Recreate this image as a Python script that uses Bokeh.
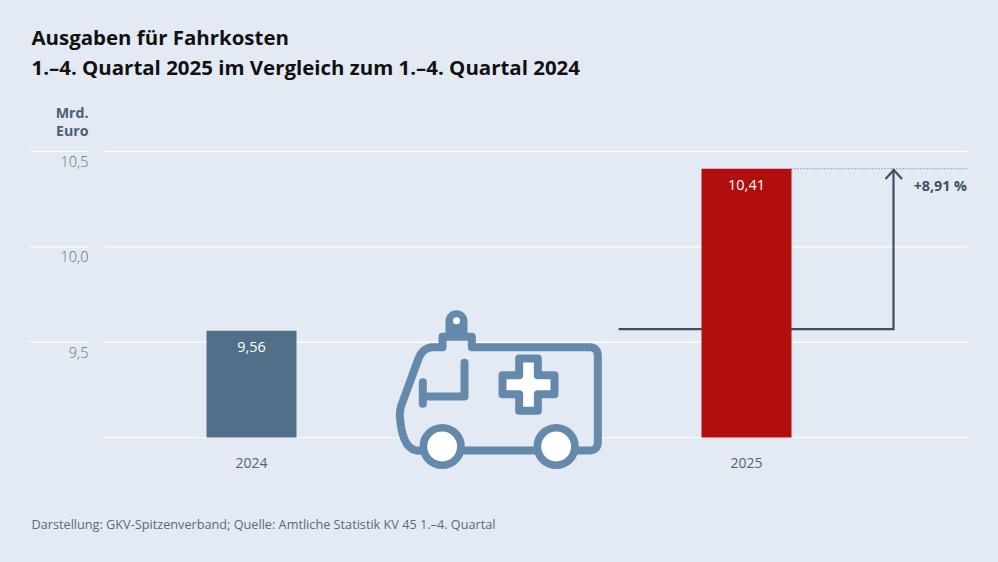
import math

from bokeh.plotting import figure
from bokeh.models import FixedTicker, Range1d
from bokeh.core.properties import value
from bokeh.embed import file_html
from bokeh.resources import INLINE

years = [2024, 2025]
values = [9.56, 10.41]
value_labels = ["9,56", "10,41"]
bar_colors = ["#516f88", "#b20e0e"]
y_ticks = [9.0, 9.5, 10.0, 10.5]
y_label_values = [9.5, 10.0, 10.5]
y_label_texts = ["9,5", "10,0", "10,5"]
change_label = "+8,91 %"
title_lines = ["Ausgaben für Fahrkosten", "1.–4. Quartal 2025 im Vergleich zum 1.–4. Quartal 2024"]
unit_lines = ["Mrd.", "Euro"]
source = "Darstellung: GKV-Spitzenverband; Quelle: Amtliche Statistik KV 45 1.–4. Quartal"

BG = "#e4eaf4"
FONT = "Open Sans"
ICON = "#6589ab"
DARK = "#3e4f5f"


def X(px):
    return 2024 + (px - 251) / 495


def Y(py):
    return 9.0 + (437 - py) / (286 / 1.5)


p = figure(width=998, height=562, output_backend="svg", toolbar_location=None,
           x_range=Range1d(X(0), X(998)), y_range=Range1d(Y(562), Y(0)),
           background_fill_color=BG, border_fill_color=BG, min_border=0)
p.outline_line_color = None
p.grid.visible = False

# axes placed inside the frame
xa = p.xaxis[0]
xa.fixed_location = 9.0
xa.ticker = FixedTicker(ticks=years)
xa.major_label_overrides = {y: str(y) for y in years}
xa.axis_line_color = None
xa.major_tick_line_color = None
xa.minor_tick_line_color = None
xa.major_label_standoff = 14
xa.major_label_text_font = FONT
xa.major_label_text_font_size = "14px"
xa.major_label_text_color = "#56636f"

p.yaxis.visible = False
p.text(x=[X(88)] * len(y_label_values), y=y_label_values, text=y_label_texts, y_offset=10,
       text_color="#66727e", text_font=value("Open Sans Light"), text_font_size="14.5px",
       text_align="right", text_baseline="middle")

# grid lines
p.segment(x0=[X(104)] * len(y_ticks), x1=[X(967)] * len(y_ticks), y0=y_ticks, y1=y_ticks,
          line_color="#ffffff", line_width=1.1)
side = [t for t in y_ticks if t > 9.0]
p.segment(x0=[X(30)] * len(side), x1=[X(88)] * len(side), y0=side, y1=side,
          line_color="#ffffff", line_width=1.1)

# change arrow, behind the bars
p.line([X(618), X(893), X(893)], [Y(328.7), Y(328.7), values[1]], line_color=DARK, line_width=2.2,
       line_join="miter")
p.line([X(885), X(893.3), X(901.5)], [Y(178.5), Y(169.5), Y(178.5)], line_color=DARK, line_width=2.2)
p.line([X(791), X(967)], [values[1], values[1]], line_color="#7d8894", line_width=1.2, line_dash="1 2")

# bars
p.vbar(x=years, top=values, bottom=9.0, width=90 / 495, fill_color=bar_colors, line_color=None)
p.text(x=years, y=[Y(346), Y(184.5)], text=value_labels, text_color="#ffffff",
       text_font=value(FONT), text_font_size="14.5px", text_align="center", text_baseline="middle")
p.text(x=[X(966.5)], y=[Y(185)], text=[change_label], text_color="#3d5063", text_font=value(FONT),
       text_font_size="14.3px", text_font_style="bold", text_align="right", text_baseline="middle")


# --- ambulance icon, traced in zoom coordinates (crop origin 380,290, factor 3)
def ix(v):
    return X(380 + v / 3)


def iy(v):
    return Y(290 + v / 3)


def curve(a, c, b, n=10):
    return [((1 - t) ** 2 * a[0] + 2 * t * (1 - t) * c[0] + t ** 2 * b[0],
             (1 - t) ** 2 * a[1] + 2 * t * (1 - t) * c[1] + t ** 2 * b[1])
            for t in (i / n for i in range(n + 1))]


SW = 8
body = (curve((125, 480), (65, 490), (58, 375)) + curve((58, 375), (58, 355), (65, 338))
        + curve((112, 210), (125, 170), (160, 170))
        + [(186, 170), (186, 139), (274, 139), (274, 170)]
        + curve((625, 170), (652, 170), (652, 197))
        + curve((652, 455), (652, 480), (625, 480)))
p.patch([ix(a) for a, _ in body], [iy(b) for _, b in body], fill_color=BG, line_color=ICON,
        line_width=SW, line_join="round")

# beacon: round head on a straight neck
arc = [(228 + 33 * math.cos(math.pi * (1 + i / 16)), 92 + 33 * math.sin(math.pi * (1 + i / 16)))
       for i in range(17)]
beacon = [(195, 140)] + arc + [(261, 140)]
p.patch([ix(a) for a, _ in beacon], [iy(b) for _, b in beacon], fill_color=ICON, line_color=None)
p.scatter([ix(228)], [iy(91)], size=7, marker="circle", fill_color="#ffffff", line_color=None)

# window
p.line([ix(127), ix(127)], [iy(275), iy(340)], line_color=ICON, line_width=SW, line_cap="round")
p.line([ix(127), ix(252), ix(252)], [iy(318), iy(318), iy(217)], line_color=ICON, line_width=SW,
       line_cap="round", line_join="round")

# cross
cx = [416, 472, 472, 522, 522, 472, 472, 416, 416, 366, 366, 416]
cy = [204, 204, 254, 254, 311, 311, 361, 361, 311, 311, 254, 254]
p.patch([ix(v) for v in cx], [iy(v) for v in cy], fill_color="#ffffff", line_color=ICON,
        line_width=SW, line_join="round")

# wheels
p.scatter([ix(185), ix(527)], [iy(468), iy(468)], size=37.6, marker="circle", fill_color="#ffffff",
          line_color=ICON, line_width=7.7)

# titles and notes
p.text(x=[X(31)] * 2, y=[Y(36.5), Y(66.5)], text=title_lines, text_color="#111111", text_font=value(FONT),
       text_font_size="20.45px", text_font_style="bold", text_baseline="middle")
p.text(x=[X(88)] * 2, y=[Y(111.5), Y(129.5)], text=unit_lines, text_color="#4a6076", text_font=value(FONT),
       text_font_size="14.2px", text_font_style="bold", text_align="right", text_baseline="middle")
p.text(x=[X(31)], y=[Y(523)], text=[source], text_color="#556a7e", text_font=value(FONT),
       text_font_size="12.7px", text_baseline="middle")

html = file_html(p, INLINE)
html = html.replace("</head>", f"<style>html,body{{background:{BG};}}</style></head>", 1)
open("out.html", "w").write(html)
